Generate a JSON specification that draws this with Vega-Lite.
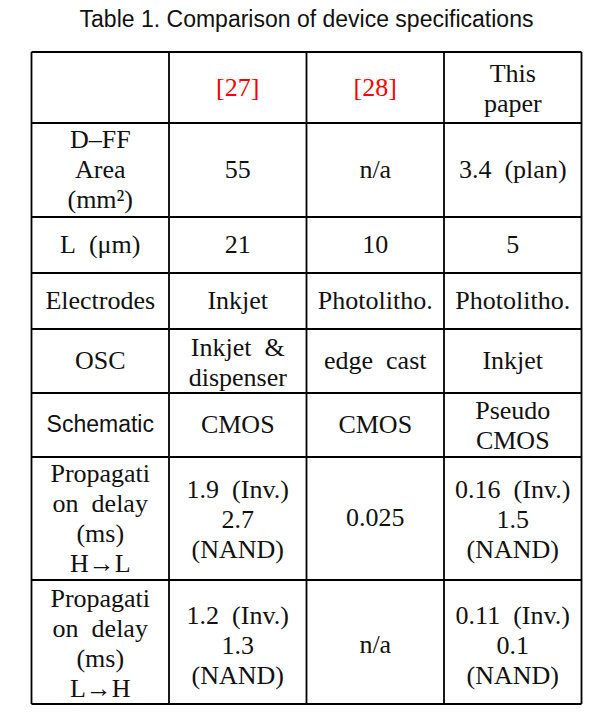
{
  "$schema": "https://vega.github.io/schema/vega-lite/v6.json",
  "width": 550,
  "height": 652,
  "autosize": {"type": "none"},
  "padding": {"left": 31.5, "top": 52, "right": 23.5, "bottom": 12},
  "background": "white",
  "config": {"view": {"stroke": null}},
  "title": {
    "text": "Table 1. Comparison of device specifications",
    "font": "Liberation Sans",
    "fontSize": 23,
    "fontWeight": "normal",
    "color": "#111111",
    "anchor": "middle",
    "baseline": "alphabetic",
    "offset": 1
  },
  "datasets": {
    "hlines": [
      {"y": 0}, {"y": 71}, {"y": 165}, {"y": 221}, {"y": 277},
      {"y": 341}, {"y": 405}, {"y": 528}, {"y": 652}
    ],
    "vlines": [{"x": 0}, {"x": 1}, {"x": 2}, {"x": 3}, {"x": 4}],
    "cells": [
      {"col": "c1", "y": 35.5, "kind": "ref", "text": "[27]"},
      {"col": "c2", "y": 35.5, "kind": "ref", "text": "[28]"},
      {"col": "c3", "y": 22, "kind": "plain", "text": "This\npaper"},
      {"col": "c0", "y": 88, "kind": "plain", "text": "D\u2013FF\nArea\n(mm\u00b2)"},
      {"col": "c1", "y": 118, "kind": "plain", "text": "55"},
      {"col": "c2", "y": 118, "kind": "plain", "text": "n/a"},
      {"col": "c3", "y": 118, "kind": "plain", "text": "3.4\u2002(plan)"},
      {"col": "c0", "y": 193, "kind": "plain", "text": "L\u2002(\u03bcm)"},
      {"col": "c1", "y": 193, "kind": "plain", "text": "21"},
      {"col": "c2", "y": 193, "kind": "plain", "text": "10"},
      {"col": "c3", "y": 193, "kind": "plain", "text": "5"},
      {"col": "c0", "y": 249, "kind": "plain", "text": "Electrodes"},
      {"col": "c1", "y": 249, "kind": "plain", "text": "Inkjet"},
      {"col": "c2", "y": 249, "kind": "plain", "text": "Photolitho."},
      {"col": "c3", "y": 249, "kind": "plain", "text": "Photolitho."},
      {"col": "c0", "y": 309, "kind": "plain", "text": "OSC"},
      {"col": "c1", "y": 296, "kind": "plain", "text": "Inkjet\u2002&\ndispenser"},
      {"col": "c2", "y": 309, "kind": "plain", "text": "edge\u2002cast"},
      {"col": "c3", "y": 309, "kind": "plain", "text": "Inkjet"},
      {"col": "c0", "y": 373, "kind": "plain", "text": "Schematic"},
      {"col": "c1", "y": 373, "kind": "plain", "text": "CMOS"},
      {"col": "c2", "y": 373, "kind": "plain", "text": "CMOS"},
      {"col": "c3", "y": 359, "kind": "plain", "text": "Pseudo\nCMOS"},
      {"col": "c0", "y": 422, "kind": "plain", "text": "Propagati\non\u2002delay\n(ms)\nH\u2192L"},
      {"col": "c1", "y": 438, "kind": "plain", "text": "1.9\u2002(Inv.)\n2.7\n(NAND)"},
      {"col": "c2", "y": 466, "kind": "plain", "text": "0.025"},
      {"col": "c3", "y": 438, "kind": "plain", "text": "0.16\u2002(Inv.)\n1.5\n(NAND)"},
      {"col": "c0", "y": 547, "kind": "plain", "text": "Propagati\non\u2002delay\n(ms)\nL\u2192H"},
      {"col": "c1", "y": 564, "kind": "plain", "text": "1.2\u2002(Inv.)\n1.3\n(NAND)"},
      {"col": "c2", "y": 593, "kind": "plain", "text": "n/a"},
      {"col": "c3", "y": 564, "kind": "plain", "text": "0.11\u2002(Inv.)\n0.1\n(NAND)"}
    ]
  },
  "resolve": {"scale": {"x": "independent", "y": "shared"}},
  "layer": [
    {
      "data": {"name": "hlines"},
      "mark": {"type": "rule", "color": "#000000", "strokeWidth": 1.8},
      "encoding": {
        "y": {"field": "y", "type": "quantitative", "scale": {"domain": [0, 652], "reverse": true, "nice": false, "zero": false}, "axis": null},
        "x": {"datum": 0, "type": "quantitative", "scale": {"domain": [0, 4], "nice": false, "zero": false}, "axis": null},
        "x2": {"datum": 4}
      }
    },
    {
      "data": {"name": "vlines"},
      "mark": {"type": "rule", "color": "#000000", "strokeWidth": 1.8},
      "encoding": {
        "x": {"field": "x", "type": "quantitative", "scale": {"domain": [0, 4], "nice": false, "zero": false}, "axis": null},
        "y": {"datum": 0, "type": "quantitative", "axis": null},
        "y2": {"datum": 652}
      }
    },
    {
      "data": {"name": "cells"},
      "transform": [{"filter": "datum.text !== 'Schematic'"}],
      "mark": {"type": "text", "font": "Liberation Serif", "fontSize": 26, "lineHeight": 30, "lineBreak": "\n", "align": "center", "baseline": "middle"},
      "encoding": {
        "x": {"field": "col", "type": "nominal", "scale": {"type": "band", "domain": ["c0", "c1", "c2", "c3"], "paddingInner": 0, "paddingOuter": 0}, "axis": null},
        "y": {"field": "y", "type": "quantitative", "axis": null},
        "text": {"field": "text"},
        "color": {"field": "kind", "type": "nominal", "scale": {"domain": ["ref", "plain"], "range": ["#ff0000", "#111111"]}, "legend": null}
      }
    },
    {
      "data": {"name": "cells"},
      "transform": [{"filter": "datum.text === 'Schematic'"}],
      "mark": {"type": "text", "font": "Liberation Sans", "fontSize": 23, "align": "center", "baseline": "middle", "color": "#111111"},
      "encoding": {
        "x": {"field": "col", "type": "nominal", "scale": {"type": "band", "domain": ["c0", "c1", "c2", "c3"], "paddingInner": 0, "paddingOuter": 0}, "axis": null},
        "y": {"field": "y", "type": "quantitative", "axis": null},
        "text": {"field": "text"}
      }
    }
  ]
}
